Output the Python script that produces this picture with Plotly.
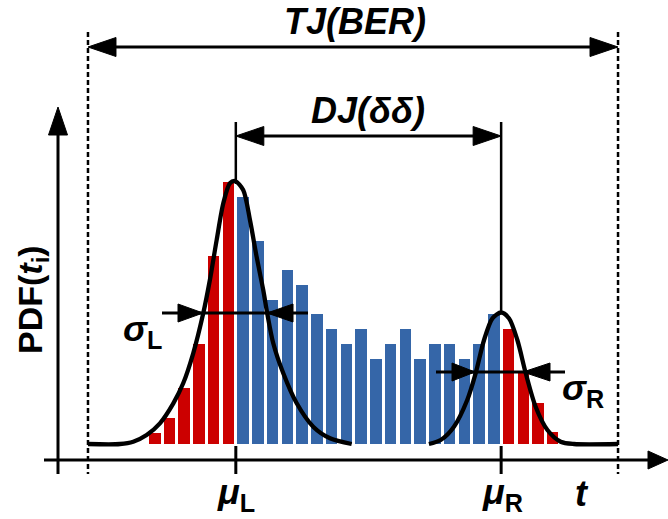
import plotly.graph_objects as go

W, H = 668, 519

# ---------------- data ----------------
bin_index = list(range(28))
pdf_counts = [11, 26, 56, 100, 188, 262,
              247, 203, 144, 174, 159, 130, 115, 100, 115, 85, 100, 115, 85,
              100, 100, 85, 100, 130,
              115, 71, 41, 12]
bin_group = ["L"] * 6 + ["M"] * 18 + ["R"] * 4

# Gaussian tails drawn over the histogram (t in bin units, PDF in bar units)
left_t = [-4.53, -2.36, -1.46, -0.55, 0.35, 1.26, 1.93, 2.61, 3.29, 3.74, 4.20,
          4.65, 5.10, 5.45, 6.00, 6.46, 6.91, 7.36, 7.63, 8.04, 8.72, 9.63,
          10.75, 11.89, 13.36]
left_pdf = [0, 0, 2.3, 9, 20.7, 40.7, 60.7, 90.7, 130.7, 164, 204, 240.7,
            260.7, 263, 254, 224, 187.3, 154, 130.7, 100.7, 70.7, 40.7, 17.3,
            5.7, 0]
right_t = [18.6, 19.4, 20.3, 21.2, 21.77, 22.34, 22.91, 23.5, 24.03, 24.6,
           25.17, 25.84, 26.64, 27.54, 28.44, 31.43]
right_pdf = [0, 4, 17.3, 44, 70.7, 104, 125.7, 131.5, 125.7, 104, 70.7, 37.3,
             14, 2.3, 0, 0]

MU_L, MU_R = 5.5, 23.5
TJ_LO, TJ_HI = -4.53, 31.43

RED = "#CC0000"
BLUE = "#3566A8"
FONT = "Liberation Sans"

# ---------------- pixel <-> data helpers (for annotation drawing) ----------
X0, PITCH, BASE = 154.75, 14.74, 444.0


def X(p):
    return (p - X0) / PITCH


def Y(p):
    return BASE - p


def PX(u):
    return X0 + u * PITCH


fig = go.Figure()

fig.add_trace(go.Bar(
    x=bin_index, y=pdf_counts, width=0.78,
    marker=dict(color=[RED if g != "M" else BLUE for g in bin_group],
                line=dict(width=0)),
    hoverinfo="skip", showlegend=False))

for tt, pp in ((left_t, left_pdf), (right_t, right_pdf)):
    fig.add_trace(go.Scatter(
        x=tt, y=pp, mode="lines",
        line=dict(color="black", width=4.3, shape="spline", smoothing=0.8),
        hoverinfo="skip", showlegend=False))

shapes = []


def line(x0, y0, x1, y1, w=3, dash=None):
    d = dict(type="line", xref="x", yref="y",
             x0=X(x0), y0=Y(y0), x1=X(x1), y1=Y(y1),
             line=dict(color="black", width=w))
    if dash:
        d["line"]["dash"] = dash
    shapes.append(d)


def tri(pts):
    path = "M " + " L ".join(f"{X(a):.4f},{Y(b):.4f}" for a, b in pts) + " Z"
    shapes.append(dict(type="path", xref="x", yref="y", path=path,
                       fillcolor="black", line=dict(color="black", width=1)))


def harrow(tip_x, base_x, y, hw=9.5):
    tri([(tip_x, y), (base_x, y - hw), (base_x, y + hw)])


def varrow(x, tip_y, base_y, hw=9.5):
    tri([(x, tip_y), (x - hw, base_y), (x + hw, base_y)])


# axes
line(58, 474, 58, 130)
varrow(58, 107, 135)
line(44, 460, 650, 460)
harrow(668, 648, 460, 9)

# TJ boundaries (dashed)
tj_lo_px, tj_hi_px = PX(TJ_LO), PX(TJ_HI)
line(tj_lo_px, 32, tj_lo_px, 474, 2.5, "5px,3px")
line(tj_hi_px, 32, tj_hi_px, 474, 2.5, "5px,3px")

# TJ arrow
line(tj_lo_px + 20, 47, tj_hi_px - 20, 47)
harrow(tj_lo_px, tj_lo_px + 28, 47)
harrow(tj_hi_px, tj_hi_px - 28, 47)

# mu lines and DJ arrow
muL, muR = PX(MU_L), PX(MU_R)
line(muL, 122, muL, 184, 2.5)
line(muR, 122, muR, 313, 2.5)
line(muL, 446, muL, 474, 3)
line(muR, 446, muR, 474, 3)
line(muL + 20, 136, muR - 20, 136)
harrow(muL, muL + 28, 136)
harrow(muR, muR - 28, 136)

# sigma arrows
line(162, 313, 308, 313)
harrow(203, 178, 313, 9)
harrow(267, 293, 313, 9)
line(436, 372, 565, 372)
harrow(475, 452, 372, 9)
harrow(523, 550, 372, 9)

annotations = []


def text(s, x, y, size=36, angle=0):
    annotations.append(dict(
        text=s, xref="paper", yref="paper", x=x / W, y=1 - y / H,
        xanchor="center", yanchor="middle", showarrow=False,
        textangle=angle, font=dict(family=FONT, size=size, color="black")))


text("<b><i>TJ(BER)</i></b>", 355, 21)
text("<b><i>DJ(δδ)</i></b>", 368, 111)
text("<b>PDF(<i>t</i><sub>i</sub>)</b>", 32, 300, 34, -90)
text("<b><i>μ</i><sub>L</sub></b>", 236, 494)
text("<b><i>μ</i><sub>R</sub></b>", 502, 494)
text("<b><i>t</i></b>", 582, 493)
text("<b><i>σ</i><sub>L</sub></b>", 142, 331)
text("<b><i>σ</i><sub>R</sub></b>", 583, 390)

fig.update_layout(
    width=W, height=H, margin=dict(l=0, r=0, t=0, b=0),
    paper_bgcolor="white", plot_bgcolor="white",
    xaxis=dict(range=[X(0), X(W)], visible=False, fixedrange=True),
    yaxis=dict(range=[Y(H), Y(0)], visible=False, fixedrange=True),
    bargap=0, shapes=shapes, annotations=annotations, showlegend=False)

fig.write_html("out.html")
